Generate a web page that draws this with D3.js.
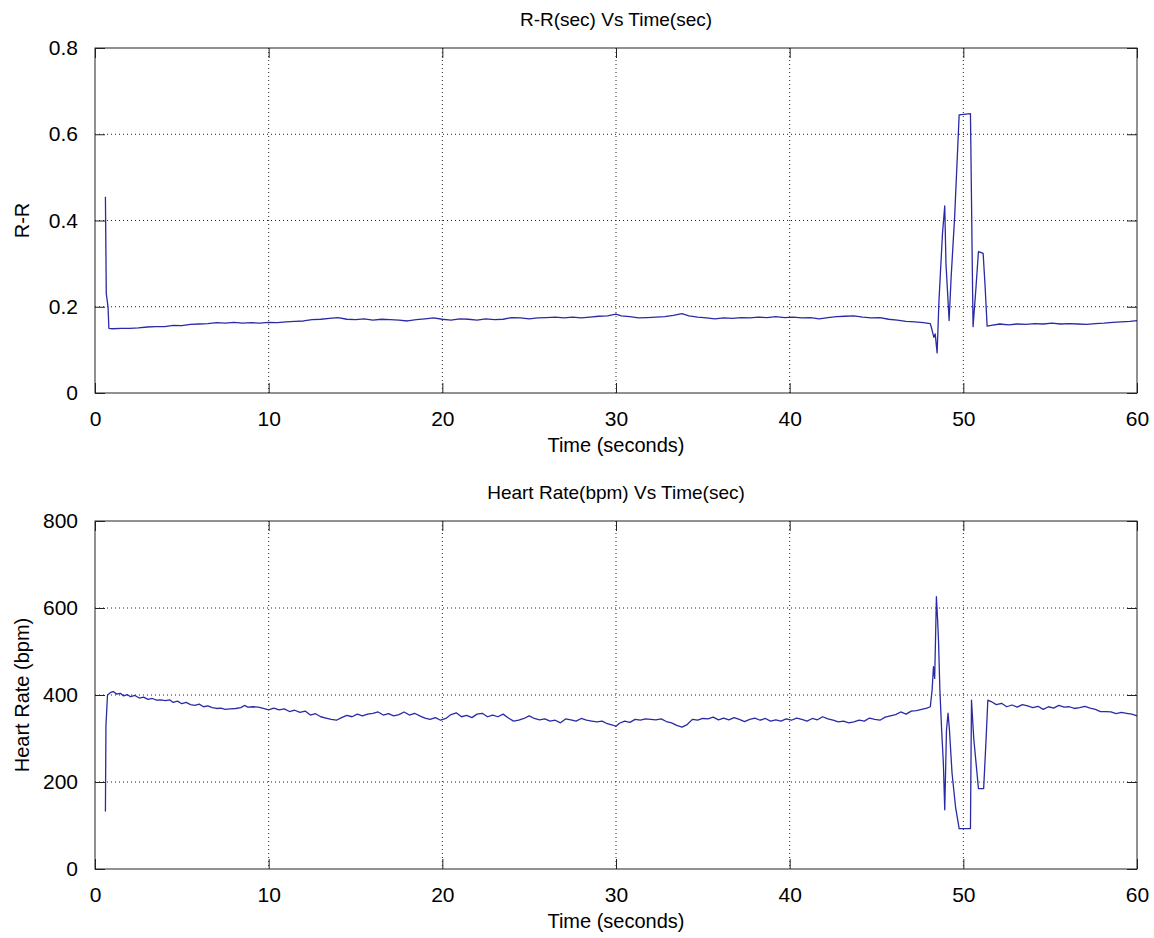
<!DOCTYPE html>
<html>
<head>
<meta charset="utf-8">
<script src="https://cdn.jsdelivr.net/npm/d3@7"></script>
<style>
  body { margin: 0; background: #fff; }
  text { font-family: "Liberation Sans", Arial, sans-serif; fill: #000; }
</style>
</head>
<body>
<script>
const width = 1154
const height = 938

// R-R interval panel (seconds)
const rrTitle = 'R-R(sec) Vs Time(sec)'
const rrLabel = 'R-R'
const rrTicks = [0, 0.2, 0.4, 0.6, 0.8]
const rrPoints = [
  [0.60,0.455],[0.65,0.230],[0.75,0.200],[0.80,0.150],[1.0,0.149],[1.5,0.150],[2.0,0.150],[2.5,0.151],
  [3.0,0.153],[3.5,0.154],[4.0,0.154],[4.5,0.157],[5.0,0.156],[5.5,0.159],[6.0,0.160],[6.5,0.161],
  [7.0,0.163],[7.5,0.162],[8.0,0.164],[8.5,0.162],[9.0,0.163],[9.5,0.162],[10.0,0.164],[10.5,0.163],
  [11.0,0.165],[11.5,0.166],[12.0,0.167],[12.5,0.170],[13.0,0.171],[13.5,0.173],[14.0,0.175],[14.5,0.171],
  [15.0,0.170],[15.5,0.172],[16.0,0.169],[16.5,0.171],[17.0,0.170],[17.5,0.169],[18.0,0.167],[18.5,0.170],
  [19.0,0.172],[19.5,0.174],[20.0,0.171],[20.5,0.169],[21.0,0.172],[21.5,0.171],[22.0,0.169],[22.5,0.172],
  [23.0,0.170],[23.5,0.171],[24.0,0.175],[24.5,0.174],[25.0,0.172],[25.5,0.174],[26.0,0.175],[26.5,0.176],
  [27.0,0.174],[27.5,0.176],[28.0,0.174],[28.5,0.176],[29.0,0.178],[29.5,0.179],[30.0,0.183],[30.3,0.179],
  [30.8,0.177],[31.3,0.174],[31.8,0.175],[32.3,0.176],[32.8,0.177],[33.3,0.180],[33.8,0.184],[34.2,0.179],
  [34.7,0.176],[35.2,0.174],[35.7,0.172],[36.2,0.174],[36.7,0.173],[37.2,0.175],[37.7,0.174],[38.2,0.176],
  [38.7,0.175],[39.2,0.177],[39.7,0.175],[40.2,0.176],[40.7,0.174],[41.2,0.175],[41.7,0.172],[42.2,0.175],
  [42.7,0.177],[43.2,0.178],[43.7,0.179],[44.2,0.176],[44.7,0.174],[45.2,0.175],[45.7,0.171],[46.2,0.169],
  [46.7,0.166],[47.2,0.165],[47.7,0.163],[48.1,0.161],
  [48.2,0.146],[48.3,0.129],[48.38,0.137],[48.49,0.093],[48.6,0.216],[48.8,0.370],[48.93,0.434],[49.0,0.300],
  [49.15,0.192],[49.18,0.168],[49.3,0.270],[49.5,0.409],[49.76,0.645],[50.41,0.648],[50.47,0.450],[50.52,0.278],
  [50.56,0.154],[50.72,0.240],[50.87,0.328],[51.14,0.324],[51.25,0.250],[51.37,0.155],
  [51.6,0.157],[52.1,0.160],[52.6,0.158],[53.1,0.160],[53.6,0.159],[54.1,0.161],[54.6,0.160],[55.1,0.162],
  [55.6,0.160],[56.1,0.161],[56.6,0.160],[57.1,0.159],[57.6,0.161],[58.1,0.162],[58.6,0.164],[59.1,0.165],
  [59.6,0.166],[60.0,0.168]
]

// heart rate panel (bpm)
const hrTitle = 'Heart Rate(bpm) Vs Time(sec)'
const hrLabel = 'Heart Rate (bpm)'
const hrTicks = [0, 200, 400, 600, 800]
const hrPoints = [
  [0.60,132],[0.63,330],[0.72,400],[0.90,406],[1.05,408],[1.25,402],[1.45,404],[1.65,398],[1.85,401],[2.05,396],
  [2.3,399],[2.55,393],[2.8,395],[3.05,390],[3.3,392],[3.55,388],[3.8,389],[4.05,387],[4.3,389],[4.5,383],
  [4.75,386],[5.0,380],[5.25,383],[5.5,378],[5.75,376],[6.0,379],[6.25,373],[6.5,375],[6.75,371],[7.0,369],
  [7.25,370],[7.5,367],[7.8,368],[8.1,369],[8.4,371],[8.6,376],[8.8,372],[9.1,373],[9.4,372],[9.7,369],
  [10.0,366],[10.3,370],[10.6,366],[10.9,368],[11.2,362],[11.5,365],[11.8,360],[12.1,363],[12.4,354],[12.7,357],
  [13.0,350],[13.3,347],[13.6,344],[13.9,342],[14.2,348],[14.5,353],[14.8,350],[15.1,356],[15.4,352],[15.7,356],
  [16.0,358],[16.3,361],[16.6,354],[16.9,357],[17.2,352],[17.5,355],[17.8,361],[18.1,354],[18.4,358],[18.7,352],
  [19.0,347],[19.3,344],[19.6,348],[19.9,342],[20.2,346],[20.5,355],[20.8,359],[21.1,350],[21.4,353],[21.7,348],
  [22.0,356],[22.3,358],[22.6,350],[22.9,354],[23.2,350],[23.5,356],[23.8,347],[24.1,340],[24.4,342],[24.7,346],
  [25.0,352],[25.3,346],[25.6,343],[25.9,345],[26.2,340],[26.5,342],[26.8,336],[27.1,345],[27.4,343],[27.7,340],
  [28.0,346],[28.3,342],[28.6,340],[28.9,338],[29.2,340],[29.5,334],[29.8,331],[30.0,328],[30.2,335],[30.5,340],
  [30.8,337],[31.1,344],[31.4,342],[31.7,345],[32.0,344],[32.3,343],[32.6,345],[32.9,339],[33.2,336],[33.5,330],
  [33.8,326],[34.1,332],[34.4,344],[34.7,342],[35.0,346],[35.3,345],[35.6,349],[35.9,343],[36.2,347],[36.5,343],
  [36.8,348],[37.1,344],[37.4,339],[37.7,344],[38.0,347],[38.3,342],[38.6,346],[38.9,340],[39.2,343],[39.5,340],
  [39.8,345],[40.1,342],[40.4,347],[40.7,344],[41.0,340],[41.3,346],[41.6,343],[41.9,350],[42.2,345],[42.5,342],
  [42.8,338],[43.1,340],[43.4,336],[43.7,338],[44.0,342],[44.3,340],[44.6,347],[44.9,344],[45.2,342],[45.5,349],
  [45.8,352],[46.1,355],[46.4,361],[46.7,356],[47.0,363],[47.3,364],[47.6,367],[47.9,370],[48.1,373],
  [48.2,411],[48.28,465],[48.35,438],[48.45,626],[48.52,572],[48.57,526],[48.65,411],[48.75,320],[48.85,243],
  [48.93,136],[49.03,320],[49.12,358],[49.2,320],[49.35,220],[49.55,143],[49.76,93],[50.41,93],[50.47,388],
  [50.6,300],[50.87,185],[51.17,185],[51.3,290],[51.41,388],
  [51.6,385],[51.9,378],[52.2,381],[52.5,373],[52.8,377],[53.1,372],[53.4,378],[53.7,375],[54.0,371],[54.3,374],
  [54.6,367],[54.9,373],[55.2,370],[55.5,376],[55.8,372],[56.1,373],[56.4,369],[56.7,371],[57.0,374],[57.3,370],
  [57.6,367],[57.9,362],[58.2,362],[58.5,361],[58.8,357],[59.1,360],[59.4,358],[59.7,356],[60.0,352]
]

const timeTicks = [0, 10, 20, 30, 40, 50, 60]
const timeLabel = 'Time (seconds)'

const lineColor = '#2a2aa6'
const tickLen = 10

const svg = d3.select('body').append('svg')
  .attr('width', width)
  .attr('height', height)

const drawPanel = (opts) => {
  const { top, bottom, left, right, yMax, yTicks, fmt, points, title, ylabel } = opts

  const x = d3.scaleLinear().domain([0, 60]).range([left, right])
  const y = d3.scaleLinear().domain([0, yMax]).range([bottom, top])

  const g = svg.append('g')

  // grid
  g.append('g')
    .selectAll('line')
    .data(timeTicks.slice(1, -1))
    .join('line')
    .attr('x1', d => x(d)).attr('x2', d => x(d))
    .attr('y1', top).attr('y2', bottom)
    .attr('stroke', '#222')
    .attr('stroke-width', 1)
    .attr('stroke-dasharray', '1,3')

  g.append('g')
    .selectAll('line')
    .data(yTicks.slice(1, -1))
    .join('line')
    .attr('x1', left).attr('x2', right)
    .attr('y1', d => y(d)).attr('y2', d => y(d))
    .attr('stroke', '#222')
    .attr('stroke-width', 1)
    .attr('stroke-dasharray', '1,3')

  // the data line
  const line = d3.line()
    .x(d => x(d[0]))
    .y(d => y(d[1]))

  g.append('path')
    .datum(points)
    .attr('fill', 'none')
    .attr('stroke', lineColor)
    .attr('stroke-width', 1.3)
    .attr('stroke-linejoin', 'round')
    .attr('d', line)

  // axes, ticks inward on all four sides
  const fontSize = '21px'
  const bottomAxis = d3.axisBottom(x).tickValues(timeTicks).tickSizeInner(-tickLen).tickSizeOuter(0).tickPadding(tickLen + 8)
  const topAxis = d3.axisTop(x).tickValues(timeTicks).tickSizeInner(-tickLen).tickSizeOuter(0).tickFormat('')
  const leftAxis = d3.axisLeft(y).tickValues(yTicks).tickSizeInner(-tickLen).tickSizeOuter(0).tickPadding(tickLen + 7).tickFormat(fmt)
  const rightAxis = d3.axisRight(y).tickValues(yTicks).tickSizeInner(-tickLen).tickSizeOuter(0).tickFormat('')

  const styleAxis = sel => {
    sel.select('.domain').remove()
    sel.selectAll('line').attr('stroke', '#222')
    sel.selectAll('text')
      .style('font-family', '"Liberation Sans", Arial, sans-serif')
      .style('font-size', fontSize)
      .attr('fill', '#000')
  }

  g.append('g').attr('transform', `translate(0,${bottom})`).call(bottomAxis).call(styleAxis)
  g.append('g').attr('transform', `translate(0,${top})`).call(topAxis).call(styleAxis)
  g.append('g').attr('transform', `translate(${left},0)`).call(leftAxis).call(styleAxis)
  g.append('g').attr('transform', `translate(${right},0)`).call(rightAxis).call(styleAxis)

  g.append('rect')
    .attr('x', left).attr('y', top)
    .attr('width', right - left).attr('height', bottom - top)
    .attr('fill', 'none')
    .attr('stroke', '#222')
    .attr('stroke-width', 1)

  // texts
  g.append('text')
    .attr('x', (left + right) / 2)
    .attr('y', top - 22)
    .attr('text-anchor', 'middle')
    .style('font-size', '19px')
    .text(title)

  g.append('text')
    .attr('x', (left + right) / 2)
    .attr('y', bottom + 59)
    .attr('text-anchor', 'middle')
    .style('font-size', '20px')
    .text(timeLabel)

  g.append('text')
    .attr('transform', `translate(${left - 66},${(top + bottom) / 2}) rotate(-90)`)
    .attr('text-anchor', 'middle')
    .style('font-size', '20px')
    .text(ylabel)
}

drawPanel({
  top: 48, bottom: 393, left: 95, right: 1137,
  yMax: 0.8, yTicks: rrTicks, fmt: d => d === 0 ? '0' : d3.format('.1f')(d),
  points: rrPoints, title: rrTitle, ylabel: rrLabel
})

drawPanel({
  top: 521, bottom: 869, left: 95, right: 1137,
  yMax: 800, yTicks: hrTicks, fmt: d => String(d),
  points: hrPoints, title: hrTitle, ylabel: hrLabel
})
</script>
</body>
</html>
